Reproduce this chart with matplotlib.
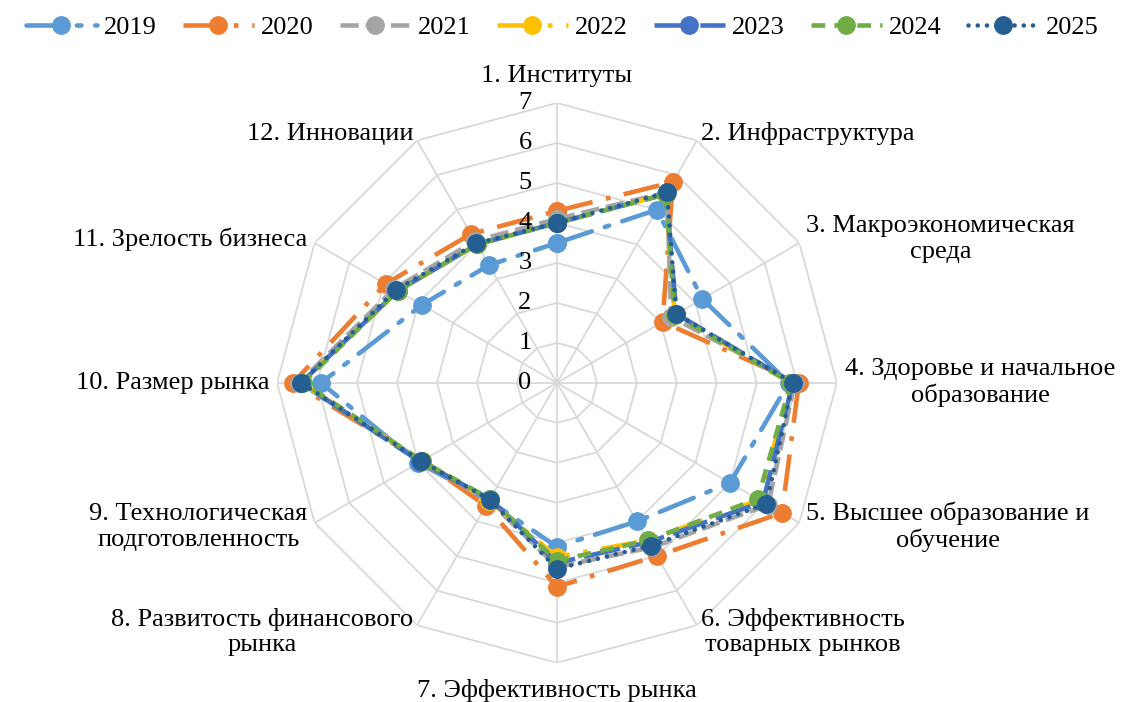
import numpy as np
import matplotlib.pyplot as plt

plt.rcParams['font.family'] = ['Liberation Serif', 'DejaVu Serif']

categories = [
    "1. Институты",
    "2. Инфраструктура",
    "3. Макроэкономическая\nсреда",
    "4. Здоровье и начальное\nобразование",
    "5. Высшее образование и\nобучение",
    "6. Эффективность\nтоварных рынков",
    "7. Эффективность рынка",
    "8. Развитость финансового\nрынка",
    "9. Технологическая\nподготовленность",
    "10. Размер рынка",
    "11. Зрелость бизнеса",
    "12. Инновации",
]

years = ["2019", "2020", "2021", "2022", "2023", "2024", "2025"]

v2019 = [3.5, 5.0, 4.2, 5.8, 5.0, 4.0, 4.1, 3.4, 4.0, 5.9, 3.9, 3.4]
v2020 = [4.3, 5.8, 3.05, 6.05, 6.5, 5.0, 5.1, 3.55, 3.9, 6.6, 4.95, 4.3]
v2021 = [4.1, 5.5, 3.3, 5.95, 6.1, 4.75, 4.6, 3.4, 3.9, 6.45, 4.7, 4.1]
v2022 = [4.0, 5.45, 3.4, 5.85, 5.85, 4.55, 4.35, 3.4, 3.9, 6.4, 4.6, 4.0]
v2023 = [4.0, 5.45, 3.45, 5.9, 5.95, 4.6, 4.5, 3.35, 3.95, 6.4, 4.6, 4.0]
v2024 = [4.0, 5.45, 3.4, 5.85, 5.8, 4.55, 4.45, 3.35, 3.9, 6.35, 4.6, 4.0]
v2025 = [4.0, 5.5, 3.45, 5.9, 6.05, 4.7, 4.65, 3.37, 3.92, 6.4, 4.65, 4.03]
series = [v2019, v2020, v2021, v2022, v2023, v2024, v2025]

colors = ["#5B9BD5", "#ED7D31", "#A5A5A5", "#FFC000", "#4472C4", "#70AD47", "#255E91"]
styles = [(0, (8, 3, 1, 3)), (0, (8, 3, 1, 3)), (0, (4, 1.5)), (0, (8, 3, 1, 3)),
          (0, (8, 2)), (0, (3, 2)), (0, (0.01, 2))]
caps = ["round", "butt", "butt", "butt", "butt", "butt", "round"]

n = len(categories)
angles = np.linspace(0, 2 * np.pi, n, endpoint=False)
closed = np.append(angles, angles[0])

fig = plt.figure(figsize=(11.24, 7.02), dpi=100)
ax = fig.add_axes([0.2465, 0.0556, 0.498, 0.798], polar=True)
ax.set_theta_zero_location("N")
ax.set_theta_direction(-1)
ax.set_ylim(0, 7)
ax.grid(False)
ax.spines['polar'].set_visible(False)
ax.set_xticks([])
ax.set_yticks([])

# polygon grid
grid_c = "#D9D9D9"
for r in range(1, 8):
    ax.plot(closed, [r] * (n + 1), color=grid_c, lw=1.3, zorder=0)
for a in angles:
    ax.plot([a, a], [0, 7], color=grid_c, lw=1.3, zorder=0)

# radial tick labels
for r in range(0, 8):
    ax.annotate(str(r), xy=(0, r), xytext=(-23, 0), textcoords='offset points',
                ha='center', va='center', fontsize=19)

# series
handles = []
for vals, lab, c, ls, cap in zip(series, years, colors, styles, caps):
    h, = ax.plot(closed, vals + vals[:1], color=c, lw=3.3, linestyle=ls,
                 marker='o', markersize=12.5, label=lab,
                 dash_capstyle=cap, solid_capstyle=cap)
    handles.append(h)

# category labels
for a, lab in zip(angles, categories):
    s = np.sin(a)
    c = np.cos(a)
    if abs(s) < 1e-6:
        ha = 'center'
        va = 'bottom' if c > 0 else 'top'
        r = 7.4
    else:
        ha = 'left' if s > 0 else 'right'
        va = 'center'
        r = 7.2
    ax.text(a, r, lab, ha=ha, va=va, fontsize=19, multialignment='center',
            clip_on=False)

fig.legend(handles=handles, loc='upper center', bbox_to_anchor=(0.5, 1.0),
           ncol=7, frameon=False, fontsize=19, handlelength=2.7,
           columnspacing=1.0, handletextpad=0.25, borderaxespad=0.2)

fig.savefig("out.png", dpi=100)
